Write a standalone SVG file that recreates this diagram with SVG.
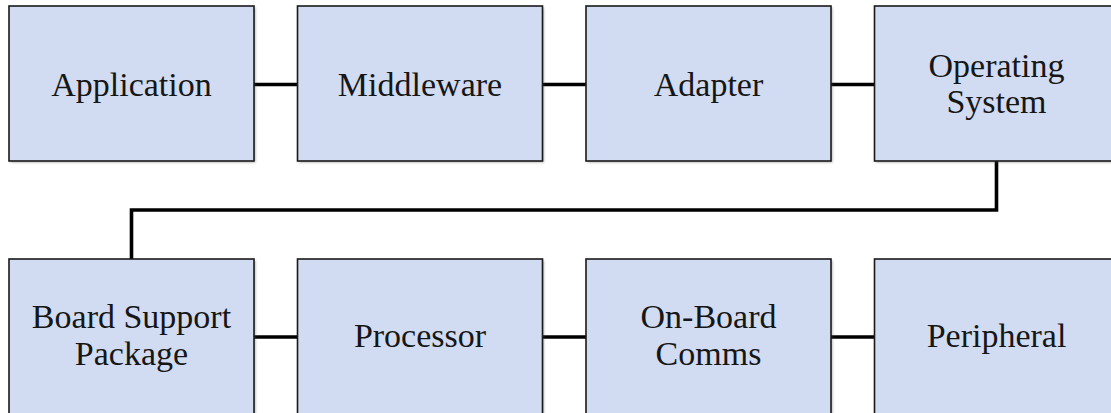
<svg xmlns="http://www.w3.org/2000/svg" width="1111" height="413" viewBox="0 0 1111 413">
  <style>
    .box { fill: #d1dcf2; stroke: #1a1a1a; stroke-width: 1.6; }
    .shadow { fill: #555; opacity: 0.45; filter: url(#soft); }
    .label { font-family: "Liberation Serif", "Times New Roman", serif; font-size: 34px; fill: #161616; text-anchor: middle; }
    .wire { fill: none; stroke: #000; stroke-width: 3.6; stroke-linejoin: miter; }
  </style>
  <defs>
    <filter id="soft" x="-5%" y="-5%" width="110%" height="110%">
      <feGaussianBlur stdDeviation="0.8"/>
    </filter>
  </defs>
  <rect width="1111" height="413" fill="#ffffff"/>

  <!-- links between the layers -->
  <g id="connectors">
    <line class="wire" x1="254" y1="84.5" x2="297" y2="84.5"/>
    <line class="wire" x1="543" y1="84.5" x2="586" y2="84.5"/>
    <line class="wire" x1="831" y1="84.5" x2="874" y2="84.5"/>
    <polyline class="wire" points="996.5,161 996.5,210 131.5,210 131.5,259"/>
    <line class="wire" x1="254" y1="337" x2="298" y2="337"/>
    <line class="wire" x1="543" y1="337" x2="586" y2="337"/>
    <line class="wire" x1="831" y1="337" x2="874" y2="337"/>
  </g>

  <!-- top row -->
  <g id="application">
    <rect class="shadow" x="10.5" y="7.5" width="245" height="155"/>
    <rect class="box" x="9" y="6" width="245" height="155"/>
    <text class="label" x="131.5" y="95.5">Application</text>
  </g>
  <g id="middleware">
    <rect class="shadow" x="299" y="7.5" width="245" height="155"/>
    <rect class="box" x="297.5" y="6" width="245" height="155"/>
    <text class="label" x="420" y="95.5">Middleware</text>
  </g>
  <g id="adapter">
    <rect class="shadow" x="587.5" y="7.5" width="245" height="155"/>
    <rect class="box" x="586" y="6" width="245" height="155"/>
    <text class="label" x="708.5" y="95.5">Adapter</text>
  </g>
  <g id="operating-system">
    <rect class="shadow" x="876" y="7.5" width="245" height="155"/>
    <rect class="box" x="874.5" y="6" width="245" height="155"/>
    <text class="label" x="996.5" y="76.5">Operating</text>
    <text class="label" x="996.5" y="112.5">System</text>
  </g>

  <!-- bottom row -->
  <g id="board-support-package">
    <rect class="shadow" x="10.5" y="260.5" width="245" height="155"/>
    <rect class="box" x="9" y="259" width="245" height="155"/>
    <text class="label" x="131.5" y="328">Board Support</text>
    <text class="label" x="131.5" y="365">Package</text>
  </g>
  <g id="processor">
    <rect class="shadow" x="299" y="260.5" width="245" height="155"/>
    <rect class="box" x="297.5" y="259" width="245" height="155"/>
    <text class="label" x="420" y="347">Processor</text>
  </g>
  <g id="on-board-comms">
    <rect class="shadow" x="587.5" y="260.5" width="245" height="155"/>
    <rect class="box" x="586" y="259" width="245" height="155"/>
    <text class="label" x="708.5" y="328">On-Board</text>
    <text class="label" x="708.5" y="365">Comms</text>
  </g>
  <g id="peripheral">
    <rect class="shadow" x="876" y="260.5" width="245" height="155"/>
    <rect class="box" x="874.5" y="259" width="245" height="155"/>
    <text class="label" x="996.5" y="347">Peripheral</text>
  </g>
</svg>
